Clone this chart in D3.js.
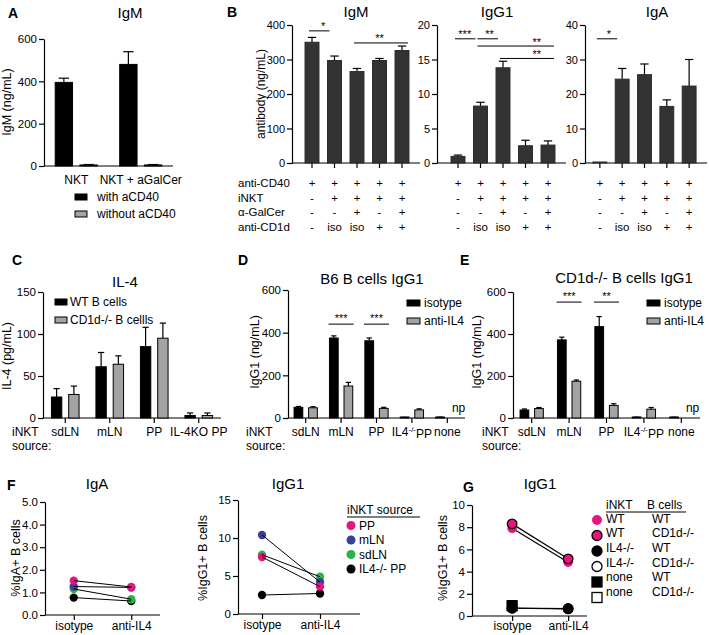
<!DOCTYPE html>
<html><head><meta charset="utf-8">
<script src="https://cdn.jsdelivr.net/npm/d3@7"></script>
<style>
body{margin:0;background:#fff;}
svg text{font-family:"Liberation Sans",Arial,Helvetica,sans-serif;fill:#000;}
</style></head><body>
<svg id="c" width="709" height="635"></svg>
<script>
// ---------- Panel A ----------
const aGroups = ["NKT", "NKT + aGalCer"];
const aSeries = ["with aCD40", "without aCD40"];
const aWith = [395, 480];
const aWithErr = [20, 60];
const aWithout = [5, 5];
const aWithoutErr = [2, 2];
const aTicks = [0, 200, 400, 600];

// ---------- Panel B ----------
const bRowLabels = ["anti-CD40", "iNKT", "α-GalCer", "anti-CD1d"];
const bRowSigns = [
  ["+", "+", "+", "+", "+"],
  ["-", "+", "+", "+", "+"],
  ["-", "-", "+", "-", "+"],
  ["-", "iso", "iso", "+", "+"]
];
const bIgM = [350, 297, 265, 297, 326];
const bIgMErr = [14, 13, 9, 6, 13];
const bIgG1 = [0.95, 8.25, 13.8, 2.5, 2.6];
const bIgG1Err = [0.2, 0.55, 0.95, 0.8, 0.6];
const bIgA = [0.2, 24.3, 25.6, 16.4, 22.3];
const bIgAErr = [0, 3.1, 3.1, 1.9, 7.7];
const bIgMTicks = [0, 100, 200, 300, 400];
const bIgG1Ticks = [0, 5, 10, 15, 20];
const bIgATicks = [0, 10, 20, 30, 40];
const bIgMSig = [{a: 0, b: 1, label: "*", y: 383, lx: 0.5}, {a: 2, b: 4, label: "**", y: 348, lx: 3}];
const bIgG1Sig = [
  {a: 0, b: 1, label: "***", y: 18, lx: 0.3},
  {a: 1, b: 2, label: "**", y: 18, lx: 1.4},
  {a: 1, b: 4, label: "**", y: 16.95, lx: 3.5},
  {a: 2, b: 4, label: "**", y: 15.15, lx: 3.5}
];
const bIgASig = [{a: 0, b: 1, label: "*", y: 36, lx: 0.4}];

// ---------- Panel C ----------
const cGroups = ["sdLN", "mLN", "PP", "IL-4KO PP"];
const cSeries = ["WT B cells", "CD1d-/- B cellls"];
const cWT = [25, 61, 85, 3];
const cWTErr = [10, 17, 23, 3];
const cCD1d = [28, 64, 95, 3];
const cCD1dErr = [10, 10, 18, 3];
const cTicks = [0, 50, 100, 150];

// ---------- Panels D, E ----------
const deGroups = ["sdLN", "mLN", "PP", "IL4-/-PP", "none"];
const deSeries = ["isotype", "anti-IL4"];
const deTicks = [0, 200, 400, 600];
const dIso = [50, 375, 362, 2, 3];
const dIsoErr = [4, 10, 13, 1, 1];
const dAnti = [48, 150, 45, 38, null];
const dAntiErr = [5, 17, 5, 5, null];
const dSig = [{a: 1, label: "***", y: 440}, {a: 2, label: "***", y: 440}];
const eIso = [38, 372, 435, 3, 3];
const eIsoErr = [5, 13, 48, 1, 1];
const eAnti = [45, 175, 60, 42, null];
const eAntiErr = [5, 6, 8, 8, null];
const eSig = [{a: 1, label: "***", y: 552}, {a: 2, label: "**", y: 552}];

// ---------- Panel F ----------
const fCats = ["isotype", "anti-IL4"];
const fSources = ["PP", "mLN", "sdLN", "IL4-/- PP"];
const fIgA = [[1.52, 1.24], [1.26, 1.22], [1.15, 0.70], [0.77, 0.62]];
const fIgG1 = [[7.5, 3.6], [10.4, 4.2], [7.8, 4.9], [2.5, 2.7]];
const fIgATicks = [0, 1, 2, 3, 4, 5];
const fIgG1Ticks = [0, 5, 10, 15];

// ---------- Panel G ----------
const gINKT = ["WT", "WT", "IL4-/-", "IL4-/-", "none", "none"];
const gBcells = ["WT", "CD1d-/-", "WT", "CD1d-/-", "WT", "CD1d-/-"];
const gIso = [7.9, 8.3, 0.7, 0.72, 0.95, 0.9];
const gAnti = [4.85, 5.15, 0.65, 0.67, null, null];
const gTicks = [0, 2, 4, 6, 8, 10];

// ================= drawing =================
const svg = d3.select("#c");
const FF = '"Liberation Sans", Arial, Helvetica, sans-serif';
const TFS = 11.5;
const SW = 1.2;
const GREY = "#a3a3a3";
const fColors = ["#e6147f", "#3c3f98", "#2eb34b", "#000000"];

function txt(x, y, s, o = {}) {
  const t = svg.append("text").attr("x", x).attr("y", y).text(s)
    .attr("font-size", o.fs || 12).attr("text-anchor", o.anchor || "start");
  if (o.bold) t.attr("font-weight", "bold");
  if (o.rotate) t.attr("transform", `rotate(-90,${x},${y})`);
  return t;
}
function line(x1, y1, x2, y2, w) {
  return svg.append("line").attr("x1", x1).attr("y1", y1).attr("x2", x2).attr("y2", y2)
    .attr("stroke", "#000").attr("stroke-width", w || SW);
}
function yAxis(scale, x, ticks, fs) {
  const g = svg.append("g").attr("transform", `translate(${x},0)`)
    .call(d3.axisLeft(scale).tickValues(ticks).tickSize(5).tickSizeOuter(0).tickPadding(2));
  g.selectAll("path,line").attr("stroke", "#000").attr("stroke-width", SW);
  g.selectAll("text").attr("font-size", fs || TFS).attr("font-family", FF).attr("fill", "#000");
  return g;
}
function xAxis(scale, y, x1, x2, labels, pad, tickLen) {
  const ax = d3.axisBottom(scale).tickSize(tickLen === undefined ? 5 : tickLen).tickSizeOuter(0).tickPadding(pad);
  if (!labels) ax.tickFormat("");
  const g = svg.append("g").attr("transform", `translate(0,${y})`).call(ax);
  g.select(".domain").remove();
  g.selectAll("line").attr("stroke", "#000").attr("stroke-width", SW);
  g.selectAll("text").attr("font-size", 12).attr("font-family", FF).attr("fill", "#000");
  line(x1, y, x2, y);
  return g;
}
function bar(cx, bw, v, err, ys, fill, stroke) {
  if (v === null) return;
  const y0 = ys(0), yv = ys(v);
  const h = Math.max(1, y0 - yv);
  if (err) {
    const ye = ys(v + err);
    line(cx, yv, cx, ye);
    line(cx - bw * 0.3, ye, cx + bw * 0.3, ye);
  }
  svg.append("rect").attr("x", cx - bw / 2).attr("y", y0 - h).attr("width", bw).attr("height", h)
    .attr("fill", fill).attr("stroke", stroke).attr("stroke-width", 1);
}

// ---- Panel A ----
txt(8, 18, "A", {fs: 14, bold: true});
txt(130, 18, "IgM", {fs: 15, anchor: "middle"});
const aY = d3.scaleLinear().domain([0, 600]).range([166, 39]);
const aX = d3.scaleBand().domain(aGroups).range([44, 173]);
const aSub = d3.scaleBand().domain(aSeries).range([-26, 26]).paddingInner(0.3).paddingOuter(0.2);
yAxis(aY, 44, aTicks);
xAxis(aX, aY(0), 44, 173, true, 9, 0);
aGroups.forEach((g, i) => {
  const c = aX(g) + aX.bandwidth() / 2;
  const bw = aSub.bandwidth();
  bar(c + aSub(aSeries[0]) + bw / 2, bw, aWith[i], aWithErr[i], aY, "#000", "#000");
  bar(c + aSub(aSeries[1]) + bw / 2, bw, aWithout[i], aWithoutErr[i], aY, GREY, "#000");
});
txt(11, 102, "IgM (ng/mL)", {fs: 12.5, anchor: "middle", rotate: true});
aSeries.forEach((s, i) => {
  svg.append("rect").attr("x", 75).attr("y", 194 + i * 17).attr("width", 12).attr("height", 6)
    .attr("fill", i ? GREY : "#000").attr("stroke", "#000").attr("stroke-width", 1);
  txt(97, 201 + i * 17, s, {fs: 12});
});

// ---- Panel B ----
txt(227, 17, "B", {fs: 14, bold: true});
const bPanels = [
  {title: "IgM", vals: bIgM, errs: bIgMErr, ticks: bIgMTicks, sig: bIgMSig, axisX: 292, range: [294, 420], tx: 356},
  {title: "IgG1", vals: bIgG1, errs: bIgG1Err, ticks: bIgG1Ticks, sig: bIgG1Sig, axisX: 437, range: [440, 566], tx: 497},
  {title: "IgA", vals: bIgA, errs: bIgAErr, ticks: bIgATicks, sig: bIgASig, axisX: 585, range: [582, 707], tx: 657}
];
const bRowY = [187, 201.5, 216, 231];
bPanels.forEach(p => {
  const ys = d3.scaleLinear().domain([0, d3.max(p.ticks)]).range([163, 25]);
  const xs = d3.scaleBand().domain(d3.range(p.vals.length)).range(p.range).paddingInner(0.38).paddingOuter(0.49);
  const cx = i => xs(i) + xs.bandwidth() / 2;
  yAxis(ys, p.axisX, p.ticks, 11);
  xAxis(xs, ys(0), p.axisX, p.range[1], false, 0, 5);
  p.vals.forEach((v, i) => bar(cx(i), xs.bandwidth(), v, p.errs[i], ys, "#333333", "#2a2a2a"));
  txt(p.tx, 17, p.title, {fs: 15, anchor: "middle"});
  const n = p.vals.length;
  p.sig.forEach(s => {
    const x1 = cx(s.a) - 3;
    const x2 = s.b === n - 1 ? cx(s.b) + 6 : cx(s.b) - 5;
    const yy = ys(s.y);
    line(x1, yy, x2, yy, 1);
    const lx = xs(Math.floor(s.lx)) + xs.bandwidth() / 2 + (s.lx % 1) * xs.step();
    txt(lx, yy - 0.5, s.label, {fs: 11, anchor: "middle"});
  });
  bRowSigns.forEach((row, r) => row.forEach((s, i) => txt(cx(i), bRowY[r], s, {fs: 11.5, anchor: "middle"})));
});
bRowLabels.forEach((l, r) => txt(238, bRowY[r], l, {fs: 11.5}));
txt(265, 94, "antibody (ng/mL)", {fs: 12, anchor: "middle", rotate: true});

// ---- Panel C ----
txt(12, 265, "C", {fs: 14, bold: true});
txt(125, 287, "IL-4", {fs: 15, anchor: "middle"});
const cY = d3.scaleLinear().domain([0, 150]).range([418, 292]);
const cX = d3.scaleBand().domain(cGroups).range([43, 221]);
const cSub = d3.scaleBand().domain(cSeries).range([-19, 19]).paddingInner(0.4).paddingOuter(0.3);
yAxis(cY, 43, cTicks);
xAxis(cX, cY(0), 43, 221, true, 4.5, 5);
cGroups.forEach((g, i) => {
  const c = cX(g) + cX.bandwidth() / 2, bw = cSub.bandwidth();
  bar(c + cSub(cSeries[0]) + bw / 2, bw, cWT[i], cWTErr[i], cY, "#000", "#000");
  bar(c + cSub(cSeries[1]) + bw / 2, bw, cCD1d[i], cCD1dErr[i], cY, GREY, "#000");
});
cSeries.forEach((s, i) => {
  svg.append("rect").attr("x", 55).attr("y", 299 + i * 18).attr("width", 12).attr("height", 6)
    .attr("fill", i ? GREY : "#000").attr("stroke", "#000").attr("stroke-width", 1);
  txt(70, 306 + i * 18, s, {fs: 12});
});
txt(11, 356, "IL-4 (pg/mL)", {fs: 12.5, anchor: "middle", rotate: true});
txt(12, 436, "iNKT", {fs: 12});
txt(12, 450, "source:", {fs: 12});

// ---- Panels D & E ----
function dePanel(o) {
  txt(o.letterX, 265, o.letter, {fs: 14, bold: true});
  txt(o.titleX, o.titleY, o.title, {fs: 15, anchor: "middle"});
  const ys = d3.scaleLinear().domain([0, 600]).range([418, o.top]);
  const xs = d3.scaleBand().domain(deGroups).range(o.range);
  const sub = d3.scaleBand().domain(deSeries).range([-16, 16]).paddingInner(0.4).paddingOuter(0.3);
  yAxis(ys, o.range[0], deTicks);
  const g = xAxis(xs, ys(0), o.range[0], o.range[1], true, 4.5, 5);
  g.selectAll("text").filter(d => d === "IL4-/-PP").text(null).each(function () {
    const t = d3.select(this);
    t.append("tspan").text("IL4");
    t.append("tspan").text("-/-").attr("font-size", 8).attr("dy", "-0.45em");
    t.append("tspan").text("PP").attr("dy", "0.45em");
  });
  const bw = sub.bandwidth();
  deGroups.forEach((gr, i) => {
    const c = xs(gr) + xs.bandwidth() / 2;
    bar(c + sub(deSeries[0]) + bw / 2, bw, o.iso[i], o.isoErr[i], ys, "#000", "#000");
    if (o.anti[i] === null) {
      txt(c + sub(deSeries[1]) + bw / 2 + 4, ys(0) - 6, "np", {fs: 12, anchor: "middle"});
    } else {
      bar(c + sub(deSeries[1]) + bw / 2, bw, o.anti[i], o.antiErr[i], ys, GREY, "#000");
    }
  });
  o.sig.forEach(s => {
    const c = xs(deGroups[s.a]) + xs.bandwidth() / 2;
    const yy = ys(s.y);
    line(c - 12.5, yy, c + 12.5, yy, 1);
    txt(c, yy - 2, s.label, {fs: 11, anchor: "middle"});
  });
  deSeries.forEach((s, i) => {
    svg.append("rect").attr("x", o.legX).attr("y", 300 + i * 18).attr("width", 13).attr("height", 6)
      .attr("fill", i ? GREY : "#000").attr("stroke", "#000").attr("stroke-width", 1);
    txt(o.legX + 17, 307 + i * 18, s, {fs: 12});
  });
  txt(o.ylabX, 352, "IgG1 (ng/mL)", {fs: 12.5, anchor: "middle", rotate: true});
  txt(o.inktX, 436, "iNKT", {fs: 12});
  txt(o.inktX, 450, "source:", {fs: 12});
}
dePanel({letter: "D", letterX: 238, title: "B6 B cells IgG1", titleX: 372, titleY: 284, top: 290,
  range: [288, 465], iso: dIso, isoErr: dIsoErr, anti: dAnti, antiErr: dAntiErr, sig: dSig,
  legX: 407, ylabX: 259, inktX: 246});
dePanel({letter: "E", letterX: 460, title: "CD1d-/- B cells IgG1", titleX: 624, titleY: 283, top: 292,
  range: [513, 700], iso: eIso, isoErr: eIsoErr, anti: eAnti, antiErr: eAntiErr, sig: eSig,
  legX: 647, ylabX: 481, inktX: 482});

// ---- Panel F ----
txt(7, 490, "F", {fs: 14, bold: true});
function pairPanel(o) {
  const ys = d3.scaleLinear().domain([0, d3.max(o.ticks)]).range(o.yr);
  const xs = d3.scalePoint().domain(fCats).range([o.axisX, o.xEnd]).padding(o.pad).align(o.align);
  yAxis(ys, o.axisX, o.ticks);
  xAxis(xs, ys(0), o.axisX, o.xEnd, true, o.lpad, 5);
  txt(o.titleX, 489, o.title, {fs: 15, anchor: "middle"});
  txt(o.ylabX, 558, o.ylab, {fs: 12.5, anchor: "middle", rotate: true});
  return {xs, ys};
}
const fa = pairPanel({ticks: fIgATicks, yr: [615, 502], axisX: 45, xEnd: 160, pad: 0.5, align: 0.5, lpad: 1.5,
  title: "IgA", titleX: 97, ylab: "%IgA+ B cells", ylabX: 20});
const fg = pairPanel({ticks: fIgG1Ticks, yr: [614, 500], axisX: 238, xEnd: 360, pad: 0.552, align: 0.375, lpad: 1.5,
  title: "IgG1", titleX: 288, ylab: "%IgG1+ B cells", ylabX: 207});
[[fa, fIgA], [fg, fIgG1]].forEach(([p, data]) => {
  const order = [3, 2, 1, 0];
  order.forEach(k => fCats.forEach((c, j) => {
    svg.append("circle").attr("cx", p.xs(c)).attr("cy", p.ys(data[k][j])).attr("r", 4.2).attr("fill", fColors[k]);
  }));
  order.forEach(k => line(p.xs(fCats[0]), p.ys(data[k][0]), p.xs(fCats[1]), p.ys(data[k][1]), 1));
});
txt(347, 514, "iNKT source", {fs: 12});
line(347, 517, 420, 517, 1);
fSources.forEach((s, i) => {
  svg.append("circle").attr("cx", 351).attr("cy", 525.5 + i * 14.5).attr("r", 4.5).attr("fill", fColors[i]);
  txt(359, 529.5 + i * 14.5, s, {fs: 12});
});

// ---- Panel G ----
txt(463, 492, "G", {fs: 14, bold: true});
const gStyles = [
  {shape: "c", fill: "#e6147f", stroke: "none"},
  {shape: "c", fill: "#e6147f", stroke: "#000"},
  {shape: "c", fill: "#000", stroke: "#000"},
  {shape: "c", fill: "#fff", stroke: "#000"},
  {shape: "s", fill: "#000", stroke: "#000"},
  {shape: "s", fill: "#fff", stroke: "#000"}
];
function gSym(x, y, st, r) {
  if (st.shape === "c") {
    svg.append("circle").attr("cx", x).attr("cy", y).attr("r", r).attr("fill", st.fill)
      .attr("stroke", st.stroke).attr("stroke-width", st.stroke === "none" ? 0 : 1.3);
  } else {
    svg.append("rect").attr("x", x - r).attr("y", y - r).attr("width", 2 * r).attr("height", 2 * r)
      .attr("fill", st.fill).attr("stroke", st.stroke).attr("stroke-width", 1.3);
  }
}
const gp = pairPanel({ticks: gTicks, yr: [616, 505], axisX: 472, xEnd: 587, pad: 0.527, align: 0.68, lpad: 0.5,
  title: "IgG1", titleX: 540, ylab: "%IgG1+ B cells", ylabX: 447});
gIso.forEach((v, i) => {
  if (gAnti[i] !== null) line(gp.xs(fCats[0]), gp.ys(v), gp.xs(fCats[1]), gp.ys(gAnti[i]), 1.2);
});
[5, 3, 4, 2, 0, 1].forEach(i => {
  gSym(gp.xs(fCats[0]), gp.ys(gIso[i]), gStyles[i], 4.8);
  if (gAnti[i] !== null) gSym(gp.xs(fCats[1]), gp.ys(gAnti[i]), gStyles[i], 4.8);
});
txt(606, 509, "iNKT", {fs: 12});
txt(647, 509, "B cells", {fs: 12});
line(606, 512, 686, 512, 1);
gINKT.forEach((s, i) => {
  gSym(597, 520 + i * 15.5, gStyles[i], 5);
  txt(606, 522.5 + i * 14.7, s, {fs: 12});
  txt(652, 522.5 + i * 14.7, gBcells[i], {fs: 12});
});
</script>
</body></html>
